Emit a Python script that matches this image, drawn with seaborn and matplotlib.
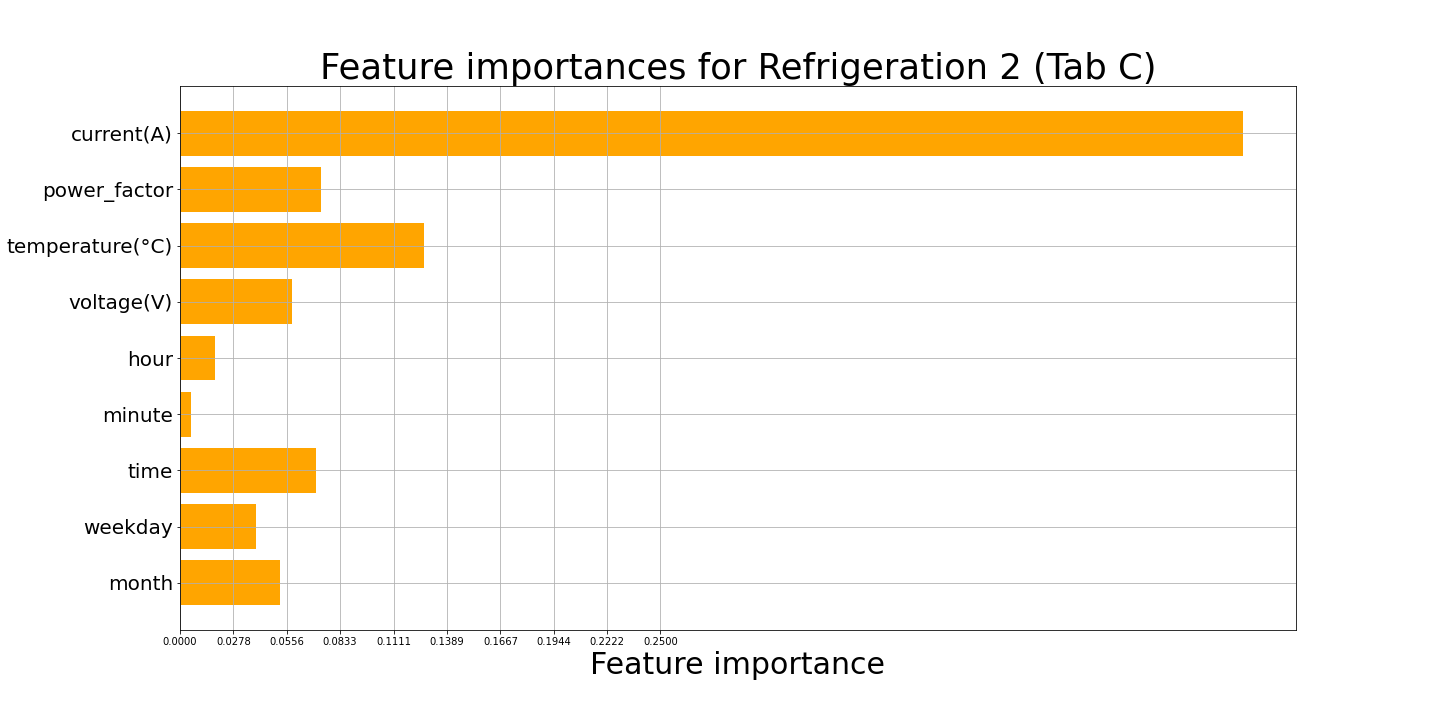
import matplotlib
matplotlib.use("Agg")
import matplotlib.pyplot as plt
import seaborn as sns
import pandas as pd
import numpy as np

# valores
features = ["current(A)", "power_factor", "temperature(°C)", "voltage(V)",
            "hour", "minute", "time", "weekday", "month"]
importances = [0.553, 0.0736, 0.1272, 0.0585, 0.0182, 0.0057, 0.0710, 0.0397, 0.0522]
tick_values = [0.0, 0.0278, 0.0556, 0.0833, 0.1111, 0.1389, 0.1667, 0.1944, 0.2222, 0.2500]

df = pd.DataFrame({"feature": features, "importance": importances})

fig = plt.figure(figsize=(20, 10), dpi=72)
ax = fig.add_axes([0.125, 0.125, 0.775, 0.7555])

sns.barplot(data=df, x="importance", y="feature", orient="h", color="orange",
            saturation=1, width=0.8, ax=ax)

ax.set_xticks(tick_values)
ax.set_xticklabels([f"{v:.4f}" for v in tick_values], fontsize=10)
ax.tick_params(axis="y", labelsize=20)
ax.set_xlim(0, max(importances) * 1.05)
# margen por defecto de matplotlib (5% del rango de barras)
n = len(features)
pad = 0.05 * (n - 0.2)
ax.set_ylim(n - 1 + 0.4 + pad, -0.4 - pad)

ax.grid(True, color="#b0b0b0", linewidth=0.8)
ax.set_axisbelow("line")
for s in ax.spines.values():
    s.set_color("black")
    s.set_linewidth(0.8)

ax.set_title("Feature importances for Refrigeration 2 (Tab C)", fontsize=35.4)
ax.set_xlabel("Feature importance", fontsize=30)
ax.set_ylabel("")

fig.savefig("out.png", dpi=72)
